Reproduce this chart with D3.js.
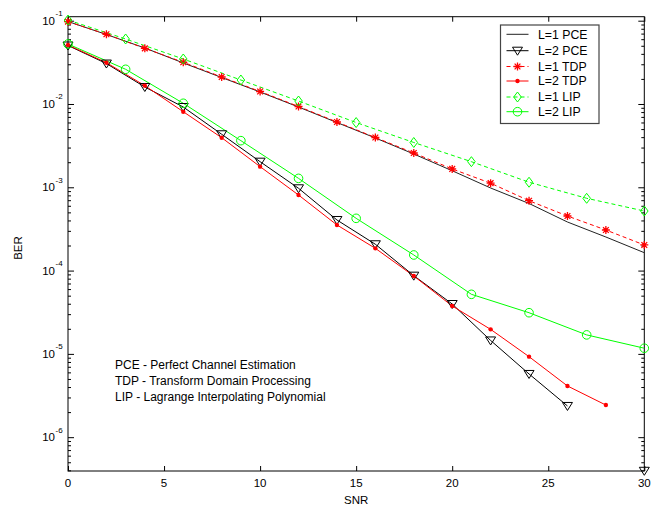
<!DOCTYPE html>
<html>
<head>
<meta charset="utf-8">
<script src="https://cdn.jsdelivr.net/npm/d3@7"></script>
<style>
  html, body { margin: 0; padding: 0; background: #fff; }
  svg { display: block; }
  text { font-family: "Liberation Sans", Arial, Helvetica, sans-serif; }
</style>
</head>
<body>
<div id="chart"></div>
<script>
// ---------- data ----------
const snrEven  = [0, 2, 4, 6, 8, 10, 12, 14, 16, 18, 20, 22, 24, 26, 28, 30];
const snrThree = [0, 3, 6, 9, 12, 15, 18, 21, 24, 27, 30];

const berL1PCE = [0.0978, 0.0683, 0.0470, 0.0311, 0.0208, 0.01393, 0.00920, 0.00599, 0.00391, 0.00251, 0.00158, 0.000981, 0.000639, 0.000383, 0.000253, 0.000164];
const berL2PCE = [0.0504, 0.0306, 0.0160, 0.00920, 0.00433, 0.00203, 0.000973, 0.000405, 0.000207, 8.69e-5, 3.97e-5, 1.45e-5, 5.74e-6, 2.37e-6, null, 3.95e-7];
const berL1TDP = [0.0973, 0.0687, 0.0466, 0.0317, 0.0211, 0.01413, 0.00933, 0.00608, 0.00396, 0.00258, 0.00166, 0.00112, 0.000690, 0.000452, 0.000307, 0.000203];
const berL2TDP = [0.0511, 0.0313, 0.0166, 0.00808, 0.00394, 0.00177, 0.000808, 0.000353, 0.000185, 8.61e-5, 3.76e-5, 1.97e-5, 9.26e-6, 4.12e-6, 2.43e-6, null];
const berL1LIP = [0.1019, 0.0603, 0.0347, 0.0194, 0.01086, 0.00599, 0.00345, 0.00203, 0.00115, 0.000738, 0.000519];
const berL2LIP = [0.0525, 0.0261, 0.01020, 0.00363, 0.00128, 0.000424, 0.000154, 5.19e-5, 3.12e-5, 1.69e-5, 1.17e-5];

const xTicks = [0, 5, 10, 15, 20, 25, 30];
const yExponents = [-1, -2, -3, -4, -5, -6];

const legendLabels = ["L=1 PCE", "L=2 PCE", "L=1 TDP", "L=2 TDP", "L=1 LIP", "L=2 LIP"];
const noteLines = [
  "PCE - Perfect Channel Estimation",
  "TDP - Transform Domain Processing",
  "LIP - Lagrange Interpolating Polynomial"
];
const xLabel = "SNR";
const yLabel = "BER";

// ---------- layout ----------
const W = 651, H = 513;
const plot = { left: 68, right: 644.3, top: 16.7, bottom: 471 };

const x = d3.scaleLinear().domain([0, 30]).range([plot.left, plot.right]);
const y = d3.scaleLog().domain([Math.pow(10, -6.406), Math.pow(10, -0.952)]).range([plot.bottom, plot.top]);

const RED = "#ff0000", GREEN = "#00ff00", BLACK = "#000000";

const series = [
  { name: legendLabels[0], xs: snrEven,  ys: berL1PCE, color: "#222", dash: null,  marker: "none" },
  { name: legendLabels[1], xs: snrEven,  ys: berL2PCE, color: BLACK,  dash: null,  marker: "tri" },
  { name: legendLabels[2], xs: snrEven,  ys: berL1TDP, color: RED,    dash: "4,3", marker: "star" },
  { name: legendLabels[3], xs: snrEven,  ys: berL2TDP, color: RED,    dash: null,  marker: "dot" },
  { name: legendLabels[4], xs: snrThree, ys: berL1LIP, color: GREEN,  dash: "4,3", marker: "diamond" },
  { name: legendLabels[5], xs: snrThree, ys: berL2LIP, color: GREEN,  dash: null,  marker: "circle" }
];

const svg = d3.select("#chart").append("svg").attr("width", W).attr("height", H);
svg.append("rect").attr("width", W).attr("height", H).attr("fill", "#fff");

// ---------- axes (ticks inside, box) ----------
const axisColor = "#000";
function styleAxis(g) {
  g.select(".domain").remove();
  g.selectAll("line").attr("stroke", axisColor).attr("stroke-width", 1);
  g.selectAll("text").remove();
}
const minorVals = [];
for (let e = -7; e <= 0; e++) for (let m = 2; m <= 9; m++) {
  const v = m * Math.pow(10, e);
  if (v >= y.domain()[0] && v <= y.domain()[1]) minorVals.push(v);
}
const majorVals = yExponents.map(e => Math.pow(10, e));

svg.append("g").attr("transform", `translate(0,${plot.bottom})`)
  .call(d3.axisBottom(x).tickValues(xTicks).tickSizeInner(-5).tickSizeOuter(0)).call(styleAxis);
svg.append("g").attr("transform", `translate(0,${plot.top})`)
  .call(d3.axisTop(x).tickValues(xTicks).tickSizeInner(-5).tickSizeOuter(0)).call(styleAxis);
svg.append("g").attr("transform", `translate(${plot.left},0)`)
  .call(d3.axisLeft(y).tickValues(majorVals).tickSizeInner(-6).tickSizeOuter(0)).call(styleAxis);
svg.append("g").attr("transform", `translate(${plot.left},0)`)
  .call(d3.axisLeft(y).tickValues(minorVals).tickSizeInner(-3).tickSizeOuter(0)).call(styleAxis);
svg.append("g").attr("transform", `translate(${plot.right},0)`)
  .call(d3.axisRight(y).tickValues(majorVals).tickSizeInner(-6).tickSizeOuter(0)).call(styleAxis);
svg.append("g").attr("transform", `translate(${plot.right},0)`)
  .call(d3.axisRight(y).tickValues(minorVals).tickSizeInner(-3).tickSizeOuter(0)).call(styleAxis);

svg.append("rect")
  .attr("x", plot.left).attr("y", plot.top)
  .attr("width", plot.right - plot.left).attr("height", plot.bottom - plot.top)
  .attr("fill", "none").attr("stroke", axisColor).attr("stroke-width", 1);

// tick labels
svg.append("g").selectAll("text").data(xTicks).join("text")
  .attr("x", d => x(d)).attr("y", plot.bottom + 15.5)
  .attr("text-anchor", "middle").attr("font-size", 11.5).attr("fill", "#000")
  .text(d => d);

const yl = svg.append("g").selectAll("g").data(yExponents).join("g");
yl.append("text")
  .attr("x", 55).attr("y", d => y(Math.pow(10, d)) + 4)
  .attr("text-anchor", "end").attr("font-size", 11.5).attr("fill", "#000")
  .text("10");
yl.append("text")
  .attr("x", 55.5).attr("y", d => y(Math.pow(10, d)) - 4.5)
  .attr("text-anchor", "start").attr("font-size", 8).attr("fill", "#000")
  .text(d => "-" + Math.abs(d));

// axis labels
svg.append("text").attr("x", (plot.left + plot.right) / 2).attr("y", 504)
  .attr("text-anchor", "middle").attr("font-size", 11.5).attr("fill", "#000").text(xLabel);
svg.append("text").attr("transform", `translate(22,248) rotate(-90)`)
  .attr("text-anchor", "middle").attr("font-size", 11.5).attr("fill", "#000").text(yLabel);

// ---------- markers ----------
function drawMarker(g, type, color, cx, cy) {
  if (type === "tri") {
    g.append("path").attr("d", `M${cx - 5},${cy - 3.5} L${cx + 5},${cy - 3.5} L${cx},${cy + 4.5} Z`)
      .attr("fill", "none").attr("stroke", color).attr("stroke-width", 1);
  } else if (type === "star") {
    const r = 4;
    g.append("path").attr("d",
      `M${cx - r},${cy} L${cx + r},${cy} M${cx},${cy - r} L${cx},${cy + r} ` +
      `M${cx - r * 0.72},${cy - r * 0.72} L${cx + r * 0.72},${cy + r * 0.72} M${cx - r * 0.72},${cy + r * 0.72} L${cx + r * 0.72},${cy - r * 0.72}`)
      .attr("fill", "none").attr("stroke", color).attr("stroke-width", 1.3);
  } else if (type === "dot") {
    g.append("circle").attr("cx", cx).attr("cy", cy).attr("r", 2.2).attr("fill", color);
  } else if (type === "diamond") {
    g.append("path").attr("d", `M${cx},${cy - 5} L${cx + 3.8},${cy} L${cx},${cy + 5} L${cx - 3.8},${cy} Z`)
      .attr("fill", "none").attr("stroke", color).attr("stroke-width", 1);
  } else if (type === "circle") {
    g.append("circle").attr("cx", cx).attr("cy", cy).attr("r", 4.3)
      .attr("fill", "none").attr("stroke", color).attr("stroke-width", 1);
  }
}

// ---------- lines ----------
const line = d3.line().defined(d => d[1] != null && d[1] > 0).x(d => x(d[0])).y(d => y(d[1]));
const gData = svg.append("g");
series.forEach(s => {
  const pts = s.xs.map((v, i) => [v, s.ys[i]]);
  gData.append("path").datum(pts)
    .attr("d", line).attr("fill", "none")
    .attr("stroke", s.color).attr("stroke-width", 1)
    .attr("stroke-dasharray", s.dash);
});
series.forEach(s => {
  const g = gData.append("g");
  s.xs.forEach((v, i) => {
    const val = s.ys[i];
    if (val == null || val <= 0 || s.marker === "none") return;
    drawMarker(g, s.marker, s.color, x(v), y(val));
  });
});

// ---------- legend ----------
const lg = svg.append("g");
lg.append("rect").attr("x", 500.5).attr("y", 25).attr("width", 98.5).attr("height", 98.5)
  .attr("fill", "#fff").attr("stroke", "#444").attr("stroke-width", 1.2);
const rowY = [34.3, 50.7, 66.5, 81, 97, 111.7];
series.forEach((s, i) => {
  const yy = rowY[i];
  lg.append("line").attr("x1", 506.5).attr("x2", 528.5).attr("y1", yy).attr("y2", yy)
    .attr("stroke", s.color).attr("stroke-width", 1).attr("stroke-dasharray", s.dash);
  if (s.marker !== "none") drawMarker(lg, s.marker, s.color, 517.5, yy);
  lg.append("text").attr("x", 538).attr("y", yy + 4.3).attr("font-size", 12.3).attr("fill", "#000").text(s.name);
});

// ---------- note ----------
svg.append("g").selectAll("text").data(noteLines).join("text")
  .attr("x", 115).attr("y", (d, i) => 368.5 + i * 16.3)
  .attr("font-size", 12).attr("fill", "#000").text(d => d);
</script>
</body>
</html>
